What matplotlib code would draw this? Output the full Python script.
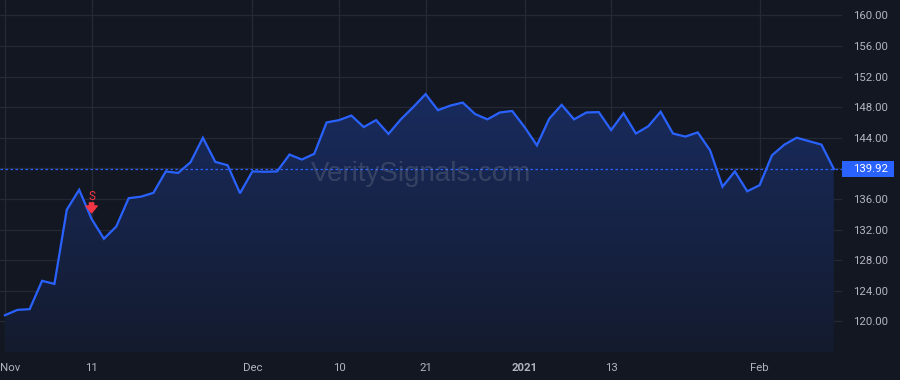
import numpy as np
import matplotlib
matplotlib.use("Agg")
import matplotlib.pyplot as plt
from matplotlib.patches import Rectangle
from matplotlib import transforms

plt.rcParams['font.family'] = ['Roboto', 'DejaVu Sans']

# daily closes, Nov 2 2020 -> Feb 9 2021 (trading days)
prices = [120.8, 121.5, 121.6, 125.3, 124.9, 134.6, 137.2, 133.4, 130.8, 132.4,
          136.1, 136.3, 136.8, 139.6, 139.4, 140.8, 144.0, 140.85, 140.4, 136.75,
          139.6, 139.55, 139.6, 141.8, 141.15, 141.9, 146.0, 146.3, 146.9, 145.4,
          146.3, 144.5, 146.4, 148.0, 149.7, 147.6, 148.2, 148.6, 147.1, 146.4,
          147.3, 147.5, 145.4, 143.0, 146.5, 148.3, 146.4, 147.3, 147.35, 145.0,
          147.2, 144.55, 145.5, 147.4, 144.55, 144.15, 144.7, 142.35, 137.6, 139.6,
          137.0, 137.8, 141.7, 143.1, 144.0, 143.55, 143.1, 139.92]
tick_pos = [0, 7, 20, 27, 34, 42, 49, 61]
tick_labels = ["Nov", "11", "Dec", "10", "21", "2021", "13", "Feb"]
price_ticks = np.arange(120, 161, 4)
signal_idx = 7
signal_label = "S"
last_price = prices[-1]

bg = '#131722'
blue = '#2962FF'
txt = '#b2b5be'
grid = '#252935'

x = np.arange(len(prices))
fig = plt.figure(figsize=(9, 3.8), dpi=100, facecolor=bg)
ax = fig.add_axes([0, 28 / 380, 842 / 900, 352 / 380])
ax.set_facecolor(bg)
ax.set_xlim(-0.4, 67.66)
ax.set_ylim(116.0, 162.0)

# gradient area under the line
y0, y1 = ax.get_ylim()
grad = np.linspace(0, 1, 256).reshape(-1, 1)
cmap = matplotlib.colors.LinearSegmentedColormap.from_list(
    "area", [(0.078, 0.106, 0.18), (0.098, 0.17, 0.37)])
img = ax.imshow(grad, aspect='auto', cmap=cmap, origin='lower',
                extent=[x[0], x[-1], y0, max(prices)], zorder=1)
poly = ax.fill_between(x, prices, y0, color='none', lw=0)
img.set_clip_path(poly.get_paths()[0], transform=ax.transData)

ax.plot(x, prices, color=blue, lw=1.6, zorder=3, solid_joinstyle='miter')
ax.axhline(last_price, color=blue, lw=0.9, ls=(0, (2, 2)), zorder=2)

# axes styling
for s in ax.spines.values():
    s.set_visible(False)
ax.set_xticks(tick_pos)
ax.set_xticklabels(tick_labels)
ax.set_yticks(price_ticks)
ax.set_yticklabels([f"{v:.2f}" for v in price_ticks])
ax.yaxis.tick_right()
ax.tick_params(axis='x', length=0, pad=8, colors=txt, labelsize=8.2)
ax.tick_params(axis='y', length=0, pad=8, colors=txt, labelsize=8.2)
ax.get_xticklabels()[5].set_fontweight('bold')
lbl0 = ax.get_xticklabels()[0]
lbl0.set_transform(lbl0.get_transform() + transforms.ScaledTranslation(5 / 100, 0, fig.dpi_scale_trans))
ax.grid(True, color=grid, lw=0.9, zorder=0)
ax.set_axisbelow(True)

# watermark
ax.text(0.5, 0.505, "VeritySignals.com", transform=ax.transAxes, ha='center', va='center',
        fontsize=20, family=['Liberation Sans'], color='#8a8e9c', alpha=0.28, zorder=4)

# sell signal
sig_y = prices[signal_idx]
ax.text(signal_idx, sig_y, signal_label, color='#F23645', fontsize=8.5, ha='center', va='center',
        transform=transforms.offset_copy(ax.transData, fig, y=22, units='dots'), zorder=5)
ax.annotate("", xy=(signal_idx, sig_y), xytext=(signal_idx, sig_y),
            xycoords=transforms.offset_copy(ax.transData, fig, y=6, units='dots'),
            textcoords=transforms.offset_copy(ax.transData, fig, y=16, units='dots'),
            arrowprops=dict(arrowstyle='simple,head_length=0.55,head_width=0.9,tail_width=0.35',
                            color='#F23645', shrinkA=0, shrinkB=0, mutation_scale=9), zorder=5)

# last price label on the price axis
px_per_unit = ax.bbox.height / (y1 - y0)
h = 16.5 / px_per_unit
blend = transforms.blended_transform_factory(fig.transFigure, ax.transData)
fig.patches.append(Rectangle((842 / 900, last_price - h / 2), 52 / 900, h, transform=blend,
                             facecolor=blue, edgecolor='none', zorder=10))
fig.text(853 / 900, last_price, f"{last_price:.2f}", transform=blend, color='white',
         fontsize=8.2, va='center', ha='left', zorder=11)

fig.savefig("out.png", dpi=100, facecolor=bg)
